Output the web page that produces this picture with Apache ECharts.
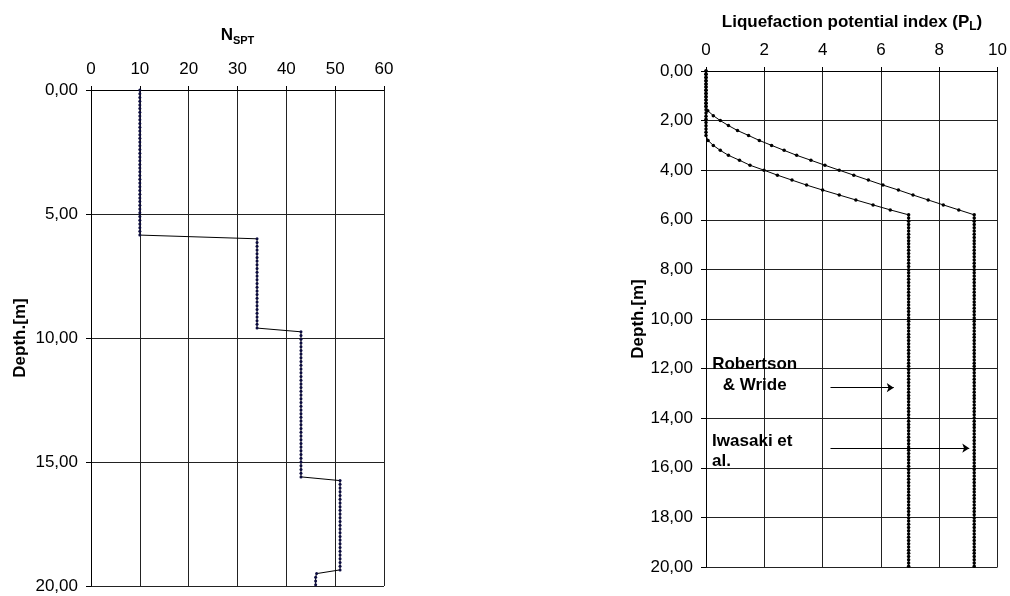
<!DOCTYPE html>
<html>
<head>
<meta charset="utf-8">
<script src="https://cdn.jsdelivr.net/npm/echarts@6/dist/echarts.min.js"></script>
<style>
html,body{margin:0;padding:0;background:#fff;}
#chart{width:1010px;height:596px;}
</style>
</head>
<body>
<div id="chart"></div>
<script>
// ---------- Left chart: N_SPT vs depth ----------
const nsptDepth = [
  0, 0.15, 0.3, 0.45, 0.6, 0.75, 0.9, 1.05, 1.2, 1.35,
  1.5, 1.65, 1.8, 1.95, 2.1, 2.25, 2.4, 2.55, 2.7, 2.85,
  3.0, 3.15, 3.3, 3.45, 3.6, 3.75, 3.9, 4.05, 4.2, 4.35,
  4.5, 4.65, 4.8, 4.95, 5.1, 5.25, 5.4, 5.55, 5.7, 5.85,
  6.0, 6.15, 6.3, 6.45, 6.6, 6.75, 6.9, 7.05, 7.2, 7.35,
  7.5, 7.65, 7.8, 7.95, 8.1, 8.25, 8.4, 8.55, 8.7, 8.85,
  9.0, 9.15, 9.3, 9.45, 9.6,
  9.75, 9.9, 10.05, 10.2, 10.35, 10.5, 10.65, 10.8, 10.95, 11.1,
  11.25, 11.4, 11.55, 11.7, 11.85, 12.0, 12.15, 12.3, 12.45, 12.6,
  12.75, 12.9, 13.05, 13.2, 13.35, 13.5, 13.65, 13.8, 13.95, 14.1,
  14.25, 14.4, 14.55, 14.7, 14.85, 15.0, 15.15, 15.3, 15.45, 15.6,
  15.75, 15.9, 16.05, 16.2, 16.35, 16.5, 16.65, 16.8, 16.95, 17.1,
  17.25, 17.4, 17.55, 17.7, 17.85, 18.0, 18.15, 18.3, 18.45, 18.6,
  18.75, 18.9, 19.05, 19.2, 19.35,
  19.5, 19.65, 19.8, 19.95
];
const nsptValue = [
  10, 10, 10, 10, 10, 10, 10, 10, 10, 10,
  10, 10, 10, 10, 10, 10, 10, 10, 10, 10,
  10, 10, 10, 10, 10, 10, 10, 10, 10, 10,
  10, 10, 10, 10, 10, 10, 10, 10, 10, 10,
  34, 34, 34, 34, 34, 34, 34, 34, 34, 34,
  34, 34, 34, 34, 34, 34, 34, 34, 34, 34,
  34, 34, 34, 34, 34,
  43, 43, 43, 43, 43, 43, 43, 43, 43, 43,
  43, 43, 43, 43, 43, 43, 43, 43, 43, 43,
  43, 43, 43, 43, 43, 43, 43, 43, 43, 43,
  43, 43, 43, 43, 43, 43, 43, 43, 43, 43,
  51, 51, 51, 51, 51, 51, 51, 51, 51, 51,
  51, 51, 51, 51, 51, 51, 51, 51, 51, 51,
  51, 51, 51, 51, 51,
  46.2, 46, 46, 46
];
const nsptTicks = [0, 10, 20, 30, 40, 50, 60];
const depthTicksLeft = [0, 5, 10, 15, 20];

// ---------- Right chart: liquefaction potential index vs depth ----------
const iwasakiUpperDepth = [0, 0.13, 0.26, 0.39, 0.52, 0.65, 0.78, 0.91, 1.04, 1.17, 1.3, 1.43];
const iwasakiUpperPL    = [0, 0, 0, 0, 0, 0, 0, 0, 0, 0, 0, 0];
const iwasakiCurveDepth = [1.6, 1.8, 2.0, 2.2, 2.4, 2.6, 2.8, 3.0, 3.2, 3.4, 3.6, 3.8, 4.0, 4.2, 4.4, 4.6, 4.8, 5.0, 5.2, 5.4, 5.6];
const iwasakiCurvePL    = [0.06, 0.25, 0.49, 0.77, 1.08, 1.46, 1.83, 2.25, 2.68, 3.11, 3.60, 4.08, 4.57, 5.07, 5.57, 6.07, 6.60, 7.10, 7.62, 8.14, 8.67];

const robertsonUpperDepth = [0, 0.13, 0.26, 0.39, 0.52, 0.65, 0.78, 0.91, 1.04, 1.17, 1.3, 1.43, 1.56, 1.69, 1.82, 1.95, 2.08, 2.21, 2.34, 2.47, 2.6];
const robertsonUpperPL    = [0, 0, 0, 0, 0, 0, 0, 0, 0, 0, 0, 0, 0, 0, 0, 0, 0, 0, 0, 0, 0];
const robertsonCurveDepth = [2.8, 3.0, 3.2, 3.4, 3.6, 3.8, 4.0, 4.2, 4.4, 4.6, 4.8, 5.0, 5.2, 5.4, 5.6];
const robertsonCurvePL    = [0.07, 0.25, 0.49, 0.77, 1.15, 1.51, 1.99, 2.45, 2.95, 3.45, 4.00, 4.57, 5.14, 5.73, 6.32];

const plBaseDepth = [
  5.80, 5.93, 6.06, 6.19, 6.32, 6.45, 6.58, 6.71, 6.84, 6.97,
  7.10, 7.23, 7.36, 7.49, 7.62, 7.75, 7.88, 8.01, 8.14, 8.27,
  8.40, 8.53, 8.66, 8.79, 8.92, 9.05, 9.18, 9.31, 9.44, 9.57,
  9.70, 9.83, 9.96, 10.09, 10.22, 10.35, 10.48, 10.61, 10.74, 10.87,
  11.00, 11.13, 11.26, 11.39, 11.52, 11.65, 11.78, 11.91, 12.04, 12.17,
  12.30, 12.43, 12.56, 12.69, 12.82, 12.95, 13.08, 13.21, 13.34, 13.47,
  13.60, 13.73, 13.86, 13.99, 14.12, 14.25, 14.38, 14.51, 14.64, 14.77,
  14.90, 15.03, 15.16, 15.29, 15.42, 15.55, 15.68, 15.81, 15.94, 16.07,
  16.20, 16.33, 16.46, 16.59, 16.72, 16.85, 16.98, 17.11, 17.24, 17.37,
  17.50, 17.63, 17.76, 17.89, 18.02, 18.15, 18.28, 18.41, 18.54, 18.67,
  18.80, 18.93, 19.06, 19.19, 19.32, 19.45, 19.58, 19.71, 19.84, 19.97
];
const iwasakiBasePL = [
  9.2, 9.2, 9.2, 9.2, 9.2, 9.2, 9.2, 9.2, 9.2, 9.2,
  9.2, 9.2, 9.2, 9.2, 9.2, 9.2, 9.2, 9.2, 9.2, 9.2,
  9.2, 9.2, 9.2, 9.2, 9.2, 9.2, 9.2, 9.2, 9.2, 9.2,
  9.2, 9.2, 9.2, 9.2, 9.2, 9.2, 9.2, 9.2, 9.2, 9.2,
  9.2, 9.2, 9.2, 9.2, 9.2, 9.2, 9.2, 9.2, 9.2, 9.2,
  9.2, 9.2, 9.2, 9.2, 9.2, 9.2, 9.2, 9.2, 9.2, 9.2,
  9.2, 9.2, 9.2, 9.2, 9.2, 9.2, 9.2, 9.2, 9.2, 9.2,
  9.2, 9.2, 9.2, 9.2, 9.2, 9.2, 9.2, 9.2, 9.2, 9.2,
  9.2, 9.2, 9.2, 9.2, 9.2, 9.2, 9.2, 9.2, 9.2, 9.2,
  9.2, 9.2, 9.2, 9.2, 9.2, 9.2, 9.2, 9.2, 9.2, 9.2,
  9.2, 9.2, 9.2, 9.2, 9.2, 9.2, 9.2, 9.2, 9.2, 9.2
];
const robertsonBasePL = [
  6.95, 6.95, 6.95, 6.95, 6.95, 6.95, 6.95, 6.95, 6.95, 6.95,
  6.95, 6.95, 6.95, 6.95, 6.95, 6.95, 6.95, 6.95, 6.95, 6.95,
  6.95, 6.95, 6.95, 6.95, 6.95, 6.95, 6.95, 6.95, 6.95, 6.95,
  6.95, 6.95, 6.95, 6.95, 6.95, 6.95, 6.95, 6.95, 6.95, 6.95,
  6.95, 6.95, 6.95, 6.95, 6.95, 6.95, 6.95, 6.95, 6.95, 6.95,
  6.95, 6.95, 6.95, 6.95, 6.95, 6.95, 6.95, 6.95, 6.95, 6.95,
  6.95, 6.95, 6.95, 6.95, 6.95, 6.95, 6.95, 6.95, 6.95, 6.95,
  6.95, 6.95, 6.95, 6.95, 6.95, 6.95, 6.95, 6.95, 6.95, 6.95,
  6.95, 6.95, 6.95, 6.95, 6.95, 6.95, 6.95, 6.95, 6.95, 6.95,
  6.95, 6.95, 6.95, 6.95, 6.95, 6.95, 6.95, 6.95, 6.95, 6.95,
  6.95, 6.95, 6.95, 6.95, 6.95, 6.95, 6.95, 6.95, 6.95, 6.95
];
const plTicks = [0, 2, 4, 6, 8, 10];
const depthTicksRight = [0, 2, 4, 6, 8, 10, 12, 14, 16, 18, 20];

// annotation labels and arrows (data coordinates: [PL, depth])
const annotationLabels = ['Robertson\n& Wride', 'Iwasaki et\nal.'];
const annotationAnchors = [[1.67, 12.24], [0.21, 15.32]];
const arrowStarts = [[4.27, 12.77], [4.27, 15.21]];
const arrowEnds = [[6.44, 12.77], [9.03, 15.21]];

// ---------- build ----------
const FONT = 'Liberation Sans, Arial, sans-serif';
const zip = (xs, ys) => xs.map((x, i) => [x, ys[i]]);
const nsptData = zip(nsptValue, nsptDepth);
const iwasakiData = zip(
  iwasakiUpperPL.concat(iwasakiCurvePL, iwasakiBasePL),
  iwasakiUpperDepth.concat(iwasakiCurveDepth, plBaseDepth)
);
const robertsonData = zip(
  robertsonUpperPL.concat(robertsonCurvePL, robertsonBasePL),
  robertsonUpperDepth.concat(robertsonCurveDepth, plBaseDepth)
);
const depthFmt = v => v.toFixed(2).replace('.', ',');

function xAxisCfg(gi, ticks) {
  return {
    gridIndex: gi, type: 'value', position: 'top',
    min: ticks[0], max: ticks[ticks.length - 1], interval: ticks[1] - ticks[0],
    axisLine: { show: true, lineStyle: { color: '#000', width: 1 } },
    axisTick: { show: true, inside: false, length: 4, lineStyle: { color: '#000' } },
    axisLabel: { color: '#000', fontSize: 17, fontFamily: FONT, margin: 12 },
    splitLine: { show: true, lineStyle: { color: '#222', width: 1 } }
  };
}
function yAxisCfg(gi, ticks, gap) {
  return {
    gridIndex: gi, type: 'value', inverse: true,
    min: ticks[0], max: ticks[ticks.length - 1], interval: ticks[1] - ticks[0],
    name: 'Depth.[m]', nameLocation: 'middle', nameRotate: 90, nameGap: gap,
    nameTextStyle: { color: '#000', fontSize: 17, fontWeight: 'bold', fontFamily: FONT },
    axisLine: { show: true, lineStyle: { color: '#000', width: 1 } },
    axisTick: { show: true, inside: false, length: 5, lineStyle: { color: '#000' } },
    axisLabel: { color: '#000', fontSize: 17, fontFamily: FONT, margin: 13, formatter: depthFmt },
    splitLine: { show: true, lineStyle: { color: '#222', width: 1 } }
  };
}

const chart = echarts.init(document.getElementById('chart'), null, { renderer: 'canvas' });
const option = {
  animation: false,
  backgroundColor: '#ffffff',
  textStyle: { fontFamily: FONT },
  grid: [
    { left: 91, top: 90, width: 293, height: 496 },
    { left: 706, top: 71, width: 292, height: 496 }
  ],
  xAxis: [xAxisCfg(0, nsptTicks), xAxisCfg(1, plTicks)],
  yAxis: [yAxisCfg(0, depthTicksLeft, 62), yAxisCfg(1, depthTicksRight, 31)],
  graphic: [
    {
      type: 'text', x: 237.5, y: 35, z: 10,
      style: {
        text: '{n|N}{s|SPT}', align: 'center', verticalAlign: 'middle',
        rich: {
          n: { fontSize: 17, fontWeight: 'bold', fontFamily: FONT, fill: '#000', lineHeight: 22, verticalAlign: 'middle' },
          s: { fontSize: 11, fontWeight: 'bold', fontFamily: FONT, fill: '#000', lineHeight: 11, verticalAlign: 'bottom' }
        }
      }
    },
    {
      type: 'text', x: 852, y: 22, z: 10,
      style: {
        text: '{t|Liquefaction potential index (P}{s|L}{t|)}', align: 'center', verticalAlign: 'middle',
        rich: {
          t: { fontSize: 17, fontWeight: 'bold', fontFamily: FONT, fill: '#000', lineHeight: 22, verticalAlign: 'middle' },
          s: { fontSize: 12, fontWeight: 'bold', fontFamily: FONT, fill: '#000', lineHeight: 12, verticalAlign: 'bottom' }
        }
      }
    }
  ],
  series: [
    {
      name: 'NSPT', type: 'line', xAxisIndex: 0, yAxisIndex: 0,
      data: nsptData, showSymbol: true, showAllSymbol: true,
      symbol: 'circle', symbolSize: 3,
      itemStyle: { color: '#0c0c40' },
      lineStyle: { color: '#000', width: 1 },
      z: 5
    },
    {
      name: 'Iwasaki et al.', type: 'line', xAxisIndex: 1, yAxisIndex: 1,
      data: iwasakiData, showSymbol: true, showAllSymbol: true,
      symbol: 'circle', symbolSize: 3.5,
      itemStyle: { color: '#000' },
      lineStyle: { color: '#000', width: 1 },
      z: 5,
      markLine: {
        silent: true, symbol: ['none', 'arrow'], symbolSize: 7,
        label: { show: false },
        lineStyle: { color: '#000', width: 1, type: 'solid' },
        data: arrowStarts.map((s, i) => [{ coord: s }, { coord: arrowEnds[i] }])
      }
    },
    {
      name: 'Robertson & Wride', type: 'line', xAxisIndex: 1, yAxisIndex: 1,
      data: robertsonData, showSymbol: true, showAllSymbol: true,
      symbol: 'circle', symbolSize: 3.5,
      itemStyle: { color: '#000' },
      lineStyle: { color: '#000', width: 1 },
      z: 5
    }
  ]
};
chart.setOption(option);

// annotation texts placed via the right chart's scales
const p0 = chart.convertToPixel({ gridIndex: 1 }, annotationAnchors[0]);
const p1 = chart.convertToPixel({ gridIndex: 1 }, annotationAnchors[1]);
chart.setOption({
  graphic: [
    option.graphic[0], option.graphic[1],
    {
      type: 'text', x: p0[0], y: p0[1], z: 10,
      style: { text: annotationLabels[0], align: 'center', verticalAlign: 'middle',
        fontSize: 17, fontWeight: 'bold', fontFamily: FONT, fill: '#000', lineHeight: 21 }
    },
    {
      type: 'text', x: p1[0], y: p1[1], z: 10,
      style: { text: annotationLabels[1], align: 'left', verticalAlign: 'middle',
        fontSize: 17, fontWeight: 'bold', fontFamily: FONT, fill: '#000', lineHeight: 20 }
    }
  ]
});
</script>
</body>
</html>
